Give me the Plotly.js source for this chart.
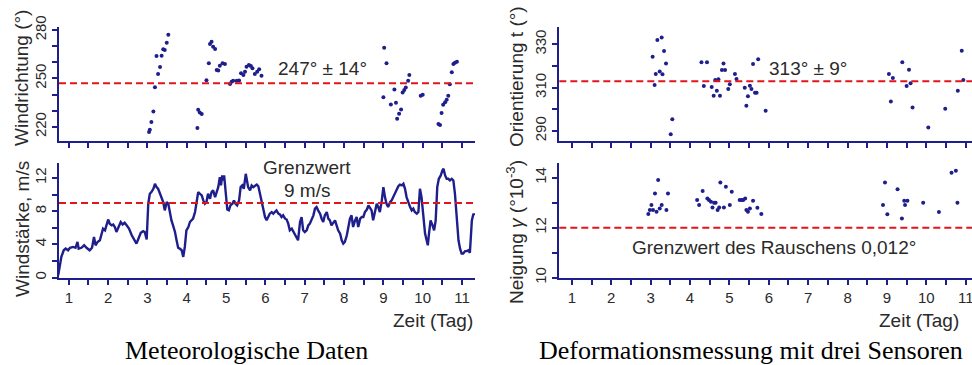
<!DOCTYPE html>
<html>
<head>
<meta charset="utf-8">
<script src="https://cdn.plot.ly/plotly-3.0.1.min.js"></script>
<style>html,body{margin:0;padding:0;background:#fff;}#chart{width:972px;height:365px;}</style>
</head>
<body>
<div id="chart"></div>
<script>
// ---------- data ----------
const dayTicks = [1,2,3,4,5,6,7,8,9,10,11];

const windDirDays = [3.04,3.06,3.10,3.15,3.19,3.27,3.32,3.23,3.36,3.40,3.44,3.49,3.53,
  4.27,4.29,4.33,4.38,4.50,4.56,4.59,4.63,4.67,4.72,4.76,4.80,4.84,4.91,4.97,5.10,5.14,5.18,5.27,5.33,5.38,5.44,5.48,5.52,5.58,5.63,5.67,5.73,5.79,5.84,5.90,
  9.02,9.08,9.00,9.28,9.19,9.32,9.35,9.40,9.45,9.49,9.53,9.57,9.63,9.66,9.95,10.0,10.40,10.44,10.48,10.52,10.57,10.61,10.65,10.69,10.74,10.78,10.82,10.87];
const windDirVals = [216.7,218.2,222.9,229.5,244.6,252.8,257.1,263.9,264.1,268.1,267.6,272.1,277.1,
  219.2,230.5,228.9,227.9,248.9,259.4,271.3,272.8,269.7,268.2,255.3,254.9,257.9,259.4,259.0,246.6,248.0,248.5,248.5,248.7,253.2,252.2,254.2,257.3,258.4,257.7,256.3,252.8,254.2,255.7,251.7,
  269.1,259.4,238.4,243.1,233.8,234.9,225.0,228.1,230.7,241.2,242.9,244.3,248.5,252.2,239.2,239.8,221.7,221.1,228.5,233.6,235.3,236.7,239.2,246.4,253.8,259.0,259.8,260.4];

const windSpeedDays = [0.73,0.77,0.81,0.87,0.92,0.98,1.03,1.11,1.17,1.22,1.25,1.32,1.39,1.45,1.53,1.59,1.64,1.68,1.73,1.79,1.83,1.87,1.92,1.96,
  2.00,2.04,2.09,2.13,2.17,2.21,2.25,2.32,2.37,2.42,2.47,2.53,2.60,2.66,2.72,2.78,2.83,2.89,2.93,2.98,
  3.02,3.06,3.10,3.15,3.19,3.23,3.27,3.32,3.36,3.40,3.44,3.49,3.53,3.57,3.61,3.65,3.70,3.74,3.78,3.82,3.87,3.91,3.95,3.99,
  4.04,4.08,4.12,4.16,4.21,4.25,4.29,4.33,4.38,4.42,4.46,4.50,4.54,4.59,4.63,4.67,4.72,4.76,4.80,4.84,4.87,4.90,4.93,4.95,4.99,
  5.03,5.07,5.11,5.16,5.20,5.24,5.28,5.33,5.37,5.41,5.45,5.50,5.52,5.56,5.61,5.65,5.69,5.73,5.78,5.82,5.86,5.90,5.94,5.99,
  6.03,6.07,6.11,6.16,6.20,6.24,6.28,6.33,6.37,6.41,6.45,6.50,6.54,6.58,6.62,6.67,6.71,6.75,6.79,6.83,6.88,6.92,6.96,
  7.00,7.05,7.09,7.13,7.17,7.22,7.26,7.30,7.34,7.39,7.43,7.47,7.51,7.56,7.60,7.64,7.68,7.73,7.77,7.81,7.85,7.90,7.94,7.98,
  8.02,8.07,8.11,8.15,8.19,8.23,8.28,8.32,8.36,8.41,8.45,8.49,8.53,8.58,8.62,8.66,8.70,8.74,8.79,8.83,8.87,8.91,8.96,
  9.00,9.04,9.08,9.12,9.17,9.21,9.25,9.30,9.34,9.38,9.42,9.47,9.51,9.55,9.59,9.63,9.68,9.72,9.76,9.80,9.85,9.89,9.93,9.97,
  10.02,10.06,10.10,10.13,10.16,10.20,10.25,10.29,10.33,10.37,10.41,10.46,10.50,10.53,10.57,10.61,10.65,10.69,10.74,10.78,10.82,10.86,10.91,10.95,10.99,
  11.03,11.08,11.12,11.16,11.20,11.25,11.29,11.32];
const windSpeedVals = [0.3,1.5,2.5,3.3,3.5,3.3,3.6,3.7,3.6,4.3,3.5,3.6,3.9,3.6,3.3,3.6,4.9,3.9,4.3,4.5,5.1,5.9,5.7,6.3,
  7.0,6.5,6.3,6.4,6.1,5.5,5.9,6.7,6.4,6.6,6.3,5.9,5.1,4.6,4.1,4.8,5.4,5.6,5.5,4.6,
  8.9,10.1,10.3,10.7,11.3,10.9,10.7,10.1,9.5,9.1,8.1,9.1,8.9,7.7,6.9,6.3,5.5,4.5,3.6,3.5,3.3,2.5,3.7,5.7,
  6.1,6.7,6.9,7.1,7.9,9.1,10.3,10.1,9.9,9.3,8.9,9.1,10.1,9.5,10.3,10.5,9.7,10.3,10.9,12.1,11.1,12.3,11.7,12.3,9.7,
  8.2,8.1,8.7,8.9,9.3,8.9,8.7,9.3,10.9,11.1,10.7,12.5,11.9,10.9,10.5,11.1,10.9,11.0,11.2,11.0,10.1,9.3,8.3,7.3,
  6.9,7.3,7.7,7.9,7.7,7.9,8.1,7.7,7.6,7.3,7.5,7.1,7.0,6.5,5.7,5.9,5.5,5.1,4.9,4.5,6.7,7.3,5.7,
  5.5,5.7,6.3,6.5,6.9,7.5,8.3,8.5,8.1,7.7,7.1,6.7,7.5,7.9,7.1,6.9,6.3,6.7,6.9,6.3,5.7,5.3,4.5,4.1,
  4.3,5.1,6.1,7.1,7.5,6.1,6.9,7.3,6.1,7.1,7.3,7.3,7.9,8.2,8.7,8.3,8.1,6.9,8.1,8.9,8.5,7.9,9.3,
  10.9,9.7,8.9,8.5,9.1,9.3,9.7,10.3,10.7,11.0,11.2,11.1,11.3,10.7,9.7,9.1,8.5,8.1,8.3,7.9,7.7,7.9,10.7,9.7,
  6.9,5.3,4.5,3.9,5.3,6.9,6.3,5.7,6.9,10.9,11.9,12.3,12.9,13.1,12.3,11.9,11.9,11.7,11.9,11.7,10.1,7.3,4.5,3.5,2.9,
  2.9,3.2,3.2,3.3,3.0,6.9,7.7,7.5];

const orientDays = [3.05,3.10,3.13,3.17,3.23,3.28,3.30,3.34,3.39,3.55,3.51,
  4.29,4.43,4.35,4.55,4.60,4.64,4.68,4.72,4.76,4.81,4.85,4.89,4.97,5.01,5.14,5.18,5.39,5.43,5.47,5.52,5.56,5.60,5.65,5.69,5.73,5.92,
  9.05,9.15,9.10,9.39,9.50,9.56,9.60,9.65,10.05,10.48,10.80,10.90,10.94];
const orientVals = [324.3,311.2,316.3,332.0,317.4,333.1,316.2,326.9,321.1,295.4,288.5,
  321.7,321.7,310.8,310.3,306.3,313.5,308.6,313.9,306.3,318.2,321.2,318.2,309.4,311.6,316.3,314.0,310.0,301.7,306.0,310.9,309.4,320.9,307.6,307.6,323.1,299.3,
  316.3,314.5,303.6,321.7,310.8,318.3,312.0,300.8,291.6,300.3,308.6,327.0,313.5];

const tiltDays = [2.94,2.98,3.02,3.06,3.11,3.15,3.19,3.23,3.28,3.40,3.44,
  4.18,4.23,4.32,4.44,4.48,4.53,4.57,4.61,4.65,4.70,4.74,4.77,4.86,4.91,5.01,5.06,5.26,5.31,5.35,5.40,5.43,5.47,5.52,5.60,5.71,5.81,
  8.90,8.95,9.01,9.27,9.38,9.44,9.46,9.52,9.92,10.32,10.64,10.75,10.79];
const tiltVals = [12.55,12.71,12.91,12.71,13.37,12.64,13.91,12.77,12.91,12.71,13.37,
  13.11,12.91,13.47,13.17,13.11,13.04,12.81,13.0,13.0,12.71,12.81,13.81,12.81,13.64,12.91,13.44,13.11,13.11,13.11,13.17,12.71,12.64,12.77,13.08,12.80,12.55,
  12.91,13.81,12.54,13.54,12.37,13.08,12.91,13.08,13.0,12.63,14.2,14.28,13.0];

const windDirMean = 247;
const windLimit = 9;
const orientMean = 313;
const noiseLimit = 12;

const dirTicks = [220,230,240,250,260,270,280];
const dirLabels = ['220','','','250','','','280'];
const speedTicks = [0,2,4,6,8,10,12];
const speedLabels = ['0','','4','','8','','12'];
const orientTicks = [290,300,310,320,330];
const orientLabels = ['290','','310','','330'];
const tiltTicks = [10,11,12,13,14];
const tiltLabels = ['10','','12','','14'];

// ---------- style ----------
const NAVY = '#1e1e8c';
const RED = '#e2141c';
const TXT = '#2a2a2a';
const SANS = 'Liberation Sans, Arial, sans-serif';
const NARROW = 'Liberation Sans Narrow, Arial Narrow, Liberation Sans, sans-serif';
const SERIF = 'Liberation Serif, Times New Roman, serif';
const W = 972, H = 365;
const px = v => v / W;
const py = v => 1 - v / H;

function xAxis(domain, range, labels) {
  return {
    domain: domain, range: range, tickmode: 'array', tickvals: dayTicks,
    ticktext: dayTicks.map(String), showticklabels: labels, ticklabeloverflow: 'allow',
    ticks: 'outside', ticklen: 5, tickwidth: 2, tickcolor: NAVY,
    minor: {tickmode: 'linear', tick0: 0.5, dtick: 1, ticks: 'outside', ticklen: 5, tickwidth: 2, tickcolor: NAVY},
    showline: true, linecolor: NAVY, linewidth: 2, showgrid: false, zeroline: false,
    tickfont: {family: SANS, size: 15, color: TXT}
  };
}
function yAxis(domain, range, vals, labels, anchor) {
  return {
    domain: domain, range: range, anchor: anchor, tickmode: 'array', tickvals: vals, ticktext: labels,
    ticks: 'outside', ticklen: 5, tickwidth: 2, tickcolor: NAVY, tickangle: -90,
    showline: true, linecolor: NAVY, linewidth: 2, showgrid: false, zeroline: false,
    tickfont: {family: NARROW, size: 15, color: TXT}
  };
}

const leftDom = [px(59), px(475)];
const rightDom = [px(559.3), 1.0];
const topDom = [py(140.5), py(27)];
const botDom = [py(277.7), py(163)];

const dotMarker = {color: NAVY, size: 4};
const traces = [
  {x: windDirDays, y: windDirVals, xaxis: 'x', yaxis: 'y', mode: 'markers', type: 'scatter', marker: dotMarker},
  {x: windSpeedDays, y: windSpeedVals, xaxis: 'x2', yaxis: 'y2', mode: 'lines', type: 'scatter', line: {color: NAVY, width: 2.4}},
  {x: orientDays, y: orientVals, xaxis: 'x3', yaxis: 'y3', mode: 'markers', type: 'scatter', marker: dotMarker},
  {x: tiltDays, y: tiltVals, xaxis: 'x4', yaxis: 'y4', mode: 'markers', type: 'scatter', marker: dotMarker}
];

function hline(xref, yref, val) {
  return {type: 'line', xref: xref + ' domain', yref: yref, x0: 0, x1: 1, y0: val, y1: val,
    line: {color: RED, width: 2, dash: '7px,4px'}, layer: 'above'};
}

function ann(text, x, y, size, opts) {
  return Object.assign({text: text, xref: 'paper', yref: 'paper', x: px(x), y: py(y),
    xanchor: 'center', yanchor: 'middle', showarrow: false,
    font: {family: SANS, size: size, color: TXT}}, opts || {});
}

const annotations = [
  ann('247° ± 14°', 322, 68, 19),
  ann('313° ± 9°', 808, 68, 19),
  ann('Grenzwert', 307, 167, 19),
  ann('9 m/s', 307, 191, 19),
  ann('Grenzwert des Rauschens 0,012°', 773.5, 247, 19),
  ann('Zeit (Tag)', 433, 320, 19),
  ann('Zeit (Tag)', 919, 320, 19),
  ann('Windrichtung (°)', 21, 78, 19, {textangle: -90}),
  ann('Windstärke, m/s', 22, 229, 19, {textangle: -90}),
  ann('Orientierung t (°)', 516, 77, 19, {textangle: -90}),
  ann('Neigung <i>γ</i> (°10<sup>-3</sup>)', 515, 232, 19, {textangle: -90}),
  ann('Meteorologische Daten', 247, 350, 26, {font: {family: SERIF, size: 26, color: '#000'}}),
  ann('Deformationsmessung mit drei Sensoren', 751, 350, 26, {font: {family: SERIF, size: 26, color: '#000'}})
];

const layout = {
  width: W, height: H, margin: {l: 0, r: 0, t: 0, b: 0},
  paper_bgcolor: '#fff', plot_bgcolor: '#fff', showlegend: false,
  xaxis: Object.assign(xAxis(leftDom, [0.75, 11.33], false), {anchor: 'y'}),
  yaxis: yAxis(topDom, [211.5, 281.9], dirTicks, dirLabels, 'x'),
  xaxis2: Object.assign(xAxis(leftDom, [0.75, 11.33], true), {anchor: 'y2'}),
  yaxis2: yAxis(botDom, [0, 13.8], speedTicks, speedLabels, 'x2'),
  xaxis3: Object.assign(xAxis(rightDom, [0.68, 11.16], false), {anchor: 'y3'}),
  yaxis3: yAxis(topDom, [285.6, 338], orientTicks, orientLabels, 'x3'),
  xaxis4: Object.assign(xAxis(rightDom, [0.68, 11.16], true), {anchor: 'y4'}),
  yaxis4: yAxis(botDom, [10, 14.59], tiltTicks, tiltLabels, 'x4'),
  shapes: [hline('x', 'y', windDirMean), hline('x2', 'y2', windLimit), hline('x3', 'y3', orientMean), hline('x4', 'y4', noiseLimit)],
  annotations: annotations
};

Plotly.newPlot('chart', traces, layout, {displayModeBar: false, staticPlot: true});
</script>
</body>
</html>
